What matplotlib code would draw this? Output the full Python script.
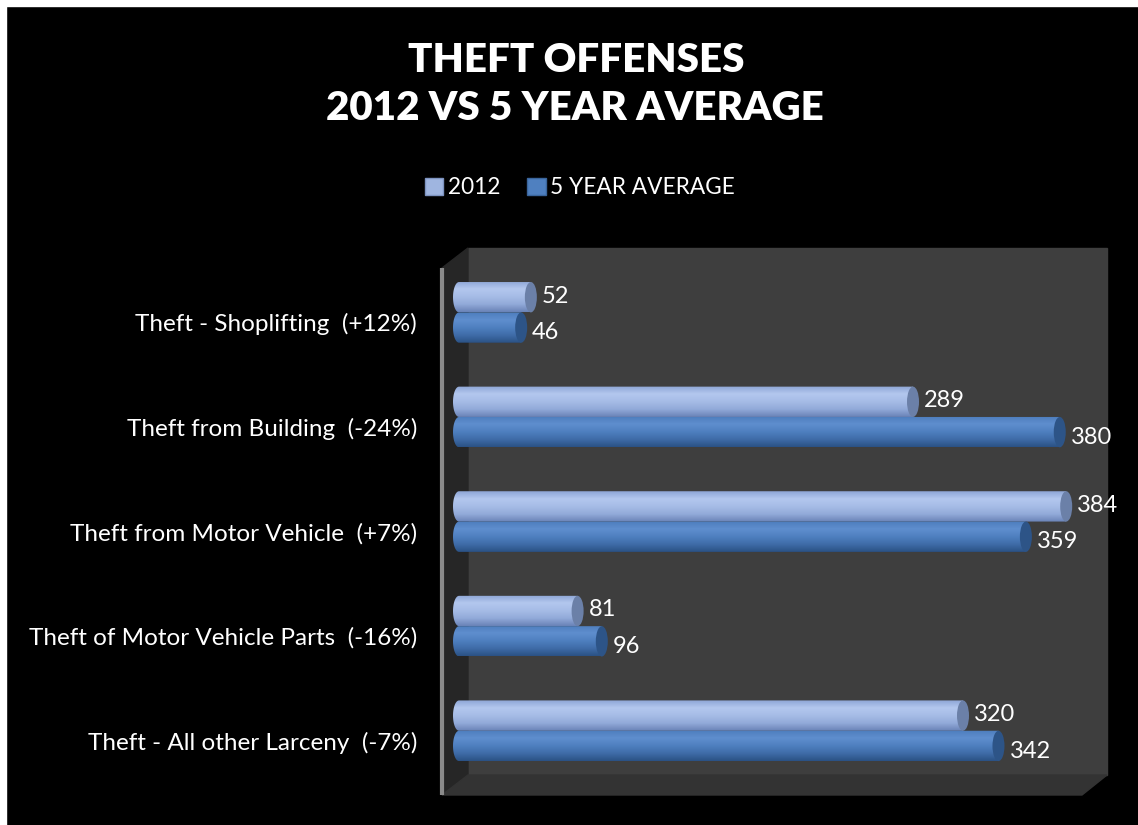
import numpy as np
import matplotlib.pyplot as plt
from matplotlib.patches import Polygon, Ellipse, Rectangle, Patch
from matplotlib.colors import to_rgb

# data
categories = ["Theft - Shoplifting  (+12%)",
              "Theft from Building  (-24%)",
              "Theft from Motor Vehicle  (+7%)",
              "Theft of Motor Vehicle Parts  (-16%)",
              "Theft - All other Larceny  (-7%)"]
values_2012 = [52, 289, 384, 81, 320]
values_avg = [46, 380, 359, 96, 342]
series_names = ["2012", "5 YEAR AVERAGE"]
title_lines = ["THEFT OFFENSES", "2012 VS 5 YEAR AVERAGE"]

plt.rcParams['font.family'] = ['Lato', 'DejaVu Sans']

W, H = 1138, 825
fig = plt.figure(figsize=(W / 100, H / 100), dpi=100, facecolor="black")

# background layer (pixel coords) for the fake 3d box
bg = fig.add_axes([0, 0, 1, 1])
bg.set_xlim(0, W)
bg.set_ylim(H, 0)
bg.axis('off')
bg.add_patch(Rectangle((0, 0), W, 6, color='white'))
bg.add_patch(Rectangle((0, 0), 6, H, color='white'))
bg.add_patch(Polygon([(468, 248), (1107, 248), (1107, 775), (468, 775)], color='#3e3e3e'))
bg.add_patch(Polygon([(442, 268), (468, 248), (468, 775), (442, 795)], color='#262626'))
bg.add_patch(Polygon([(442, 795), (468, 775), (1107, 775), (1082, 795)], color='#333333'))
bg.plot([442, 442], [268, 795], color='#8a8a8a', lw=3, solid_capstyle='butt')

# main axes: value 0 at x=453px, 1.6125 px per unit
ppu = 1.6125
xmax = 400
top_px, bot_px = 270, 793
ax = fig.add_axes([453 / W, 1 - bot_px / H, xmax * ppu / W, (bot_px - top_px) / H])
ax.patch.set_alpha(0)
for s in ax.spines.values():
    s.set_visible(False)


def gradient(stops, n=64):
    pos = np.linspace(0, 1, len(stops))
    cols = np.array([to_rgb(c) for c in stops])
    t = np.linspace(0, 1, n)
    g = np.stack([np.interp(t, pos, cols[:, k]) for k in range(3)], axis=1)
    return g[:, None, :]


light_stops = ['#8ea6d6', '#b3c7ee', '#a6bce6', '#92aad9', '#6a83b7']
light_cap = '#6b80a8'
dark_stops = ['#4d7dbd', '#5f8ece', '#4f80c0', '#3f6ca8', '#2b5285']
dark_cap = '#2d5487'

a = 6 / ppu  # half width of the round ends, in data units
h = 0.29


def draw_bar(v, yc, stops, cap):
    y0, y1 = yc - h / 2, yc + h / 2
    th = np.linspace(np.pi / 2, 3 * np.pi / 2, 30)
    left = np.column_stack([a + a * np.cos(th), yc - (h / 2) * np.sin(th)])
    pts = np.vstack([left, [[v - a, y1], [v - a, y0]]])
    clip = Polygon(pts, closed=True, facecolor='none', edgecolor='none')
    ax.add_patch(clip)
    im = ax.imshow(gradient(stops), extent=(0, v, y1, y0), aspect='auto',
                   origin='upper', zorder=2)
    im.set_clip_path(clip)
    ax.add_patch(Ellipse((v - a, yc), 2 * a, h, facecolor=cap, edgecolor='none', zorder=3))


ypos = np.arange(len(categories))
for i in ypos:
    draw_bar(values_2012[i], i - 0.24, light_stops, light_cap)
    draw_bar(values_avg[i], i + 0.05, dark_stops, dark_cap)
    ax.text(values_2012[i] + 5 / ppu, i - 0.25, str(values_2012[i]), color='white',
            fontsize=17, va='center', ha='left', zorder=4)
    ax.text(values_avg[i] + 5 / ppu, i + 0.10, str(values_avg[i]), color='white',
            fontsize=17, va='center', ha='left', zorder=4)

ax.set_xlim(0, xmax)
ax.set_ylim(len(categories) - 0.5, -0.5)
ax.set_xticks([])
ax.set_yticks(ypos)
ax.set_yticklabels(categories, color='white', fontsize=17.5)
ax.tick_params(axis='y', length=0, pad=36 * 72 / 100)

fig.text(576 / W, 1 - 72 / H, title_lines[0], color='white', fontsize=29,
         fontweight='heavy', ha='center', va='baseline')
fig.text(575 / W, 1 - 120 / H, title_lines[1], color='white', fontsize=29,
         fontweight='heavy', ha='center', va='baseline')

handles = [Patch(facecolor='#9fb5e0', edgecolor='#7d93c0'),
           Patch(facecolor='#4f80c0', edgecolor='#3a659c')]
fig.legend(handles, series_names, loc='center', bbox_to_anchor=(580 / W, 1 - 188 / H),
           ncol=2, frameon=False, labelcolor='white', fontsize=16.3,
           handlelength=0.8, handleheight=0.8, handletextpad=0.2, columnspacing=1.2)

fig.savefig('out.png', dpi=100, facecolor='black')
